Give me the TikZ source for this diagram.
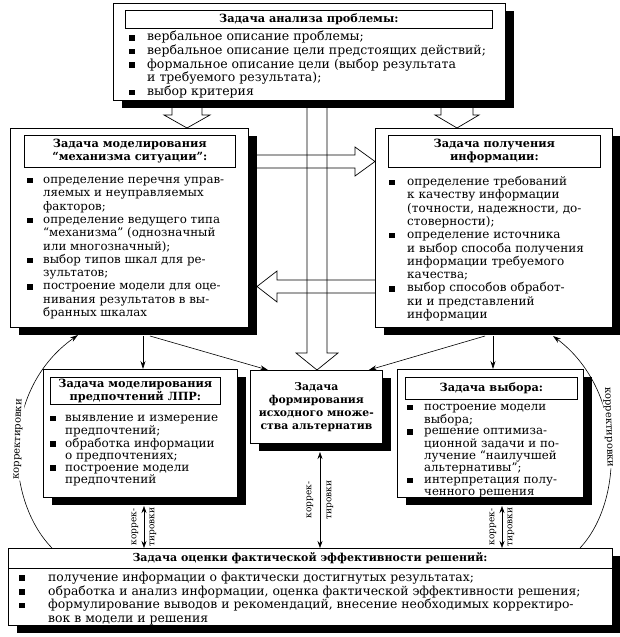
\documentclass[tikz,border=0pt]{standalone}
\usepackage{fontspec}
\setmainfont{DejaVu Serif}
\usetikzlibrary{shadows,arrows.meta}
\newcommand\bul{\rule[0.3pt]{6pt}{5.5pt}}
\newcommand\blist[2]{\begin{tabular}{@{}l@{\hspace{#1}}l@{}}#2\end{tabular}}
\tikzset{
  box/.style={draw, line width=0.8pt, fill=white, rectangle, anchor=north west, inner sep=0pt,
    drop shadow={shadow xshift=9pt, shadow yshift=-8pt, fill=black, opacity=1}},
  ttl/.style={draw, line width=0.7pt, fill=white, anchor=north west, inner sep=0pt, align=center,
    font=\bfseries\fontsize{11.3}{13}\selectfont},
  lst/.style={anchor=north west, inner sep=0pt},
  pipe/.style={draw, line width=0.7pt, line join=miter},
  tarrow/.style={draw, line width=0.6pt, -{Stealth[length=8pt,width=5pt]}},
  barrow/.style={draw, line width=0.6pt, {Stealth[length=7pt,width=5pt]}-{Stealth[length=7pt,width=5pt]}},
  klabel/.style={inner sep=0.5pt, font=\fontsize{9}{9}\selectfont},
  arclabel/.style={inner sep=1pt, fill=white, font=\fontsize{10}{10}\selectfont},
}
\begin{document}
\begin{tikzpicture}[x=1pt,y=-1pt]
\useasboundingbox (0,0) rectangle (619,637);
% hollow arrows
\draw[pipe] (172,100) -- (172,115) -- (164,115) -- (187,128) -- (210,115) -- (202,115) -- (202,100);
\draw[pipe] (441,100) -- (441,115) -- (435,115) -- (457,128) -- (479,115) -- (473,115) -- (473,100);
\draw[pipe] (307,100) -- (307,353) -- (296,353) -- (317,370) -- (338,353) -- (327,353) -- (327,100);
\draw[pipe] (248,155) -- (355,155) -- (355,147) -- (375,161.5) -- (355,176) -- (355,168) -- (248,168);
\draw[pipe] (375,280) -- (277,280) -- (277,271) -- (257,286.5) -- (277,302) -- (277,293) -- (375,293);

% boxes
\node[box, minimum width=392pt, minimum height=97pt] (top) at (113,3) {};
\node[box, minimum width=238pt, minimum height=199pt] (lbox) at (10,128) {};
\node[box, minimum width=237pt, minimum height=199pt] (rbox) at (375,128) {};
\node[box, minimum width=194pt, minimum height=128pt] (lpref) at (43,369) {};
\node[box, minimum width=132pt, minimum height=73pt] (alt) at (250,370) {};
\node[box, minimum width=186pt, minimum height=128pt] (choice) at (397,369) {};
\node[box, minimum width=604pt, minimum height=77pt] (eval) at (8,548) {};

% top box
\node[ttl, minimum width=367pt, minimum height=18pt] (toptitle) at (125,10) {Задача анализа проблемы:};
\node[lst, font=\fontsize{12.5}{13}\selectfont] (toplist) at (129,31) {\blist{12pt}{%
\bul & вербальное описание проблемы;\\
\bul & вербальное описание цели предстоящих действий;\\
\bul & формальное описание цели (выбор результата\\
     & и требуемого результата);\\
\bul & выбор критерия}};

% left box
\node[ttl, minimum width=211pt, minimum height=32pt] (ltitle) at (24,135) {Задача моделирования\\“механизма ситуации”:};
\node[lst, font=\fontsize{11.8}{13.3}\selectfont] (llist) at (27,174) {\blist{10pt}{%
\bul & определение перечня управ-\\
     & ляемых и неуправляемых\\
     & факторов;\\
\bul & определение ведущего типа\\
     & “механизма” (однозначный\\
     & или многозначный);\\
\bul & выбор типов шкал для ре-\\
     & зультатов;\\
\bul & построение модели для оце-\\
     & нивания результатов в вы-\\
     & бранных шкалах}};

% right box
\node[ttl, minimum width=212pt, minimum height=32pt] (rtitle) at (388,135) {Задача получения\\информации:};
\node[lst, font=\fontsize{12}{13.3}\selectfont] (rlist) at (389,176) {\blist{12pt}{%
\bul & определение требований\\
     & к качеству информации\\
     & (точности, надежности, до-\\
     & стоверности);\\
\bul & определение источника\\
     & и выбор способа получения\\
     & информации требуемого\\
     & качества;\\
\bul & выбор способов обработ-\\
     & ки и представлений\\
     & информации}};

% lower left box
\node[ttl, minimum width=170pt, minimum height=27pt] (lptitle) at (50,377) {Задача моделирования\\предпочтений ЛПР:};
\node[lst, font=\fontsize{12}{12}\selectfont] (lplist) at (50,413) {\blist{9pt}{%
\bul & выявление и измерение\\
     & предпочтений;\\
\bul & обработка информации\\
     & о предпочтениях;\\
\bul & построение модели\\
     & предпочтений}};

% center box
\node[anchor=center, align=center, inner sep=0pt, font=\bfseries\fontsize{10.8}{13}\selectfont] (alttext) at (alt.center) {Задача\\формирования\\исходного множе-\\ства альтернатив};

% lower right box
\node[ttl, minimum width=172pt, minimum height=22pt] (chtitle) at (405,377) {Задача выбора:};
\node[lst, font=\fontsize{11.8}{11.8}\selectfont] (chlist) at (407,402) {\blist{11pt}{%
\bul & построение модели\\
     & выбора;\\
\bul & решение оптимиза-\\
     & ционной задачи и по-\\
     & лучение “наилучшей\\
     & альтернативы”;\\
\bul & интерпретация полу-\\
     & ченного решения}};

% bottom box
\draw[line width=0.7pt] ([yshift=-20pt]eval.north west) -- ([yshift=-20pt]eval.north east);
\node[inner sep=0pt, font=\bfseries\fontsize{11}{12}\selectfont] (evtitle) at (310,558) {Задача оценки фактической эффективности решений:};
\node[lst, font=\fontsize{12.4}{13.7}\selectfont] (evlist) at (19,571.5) {\blist{23pt}{%
\bul & получение информации о фактически достигнутых результатах;\\
\bul & обработка и анализ информации, оценка фактической эффективности решения;\\
\bul & формулирование выводов и рекомендаций, внесение необходимых корректиро-\\
     & вок в модели и решения}};

% thin arrows
\coordinate (l1) at (143,336);
\coordinate (l2) at (150,336);
\coordinate (r1) at (493,336);
\coordinate (r2) at (485,336);
\draw[tarrow] (l1) -- (l1 |- lpref.north);
\draw[tarrow] (l2) -- ([xshift=18pt]alt.north west);
\draw[tarrow] (r1) -- (r1 |- choice.north);
\draw[tarrow] (r2) -- ([xshift=-14pt]alt.north east);

% corrections arrows
\coordinate (b1) at (144,506);
\coordinate (b2) at (320,452);
\coordinate (b3) at (502,506);
\draw[barrow] (b1) -- (b1 |- eval.north);
\draw[barrow] (b2) -- (b2 |- eval.north);
\draw[barrow] (b3) -- (b3 |- eval.north);
\node[klabel, rotate=90] (k1a) at (135,527) {коррек-};
\node[klabel, rotate=90] (k1b) at (153,527) {тировки};
\node[klabel, rotate=90] (k2a) at (310,500) {коррек-};
\node[klabel, rotate=90] (k2b) at (330,500) {тировки};
\node[klabel, rotate=90] (k3a) at (493,527) {коррек-};
\node[klabel, rotate=90] (k3b) at (511,527) {тировки};

% arcs
\coordinate (la) at (52,548);
\coordinate (ra) at (580,548);
\draw[line width=0.6pt, -{Stealth[length=8pt,width=5pt]}] (la) .. controls (5,500) and (0,390) .. (78,335)
  node[arclabel, pos=0.52, rotate=88] (lk) {корректировки};
\draw[line width=0.6pt, -{Stealth[length=8pt,width=5pt]}] (ra) .. controls (625,500) and (625,390) .. (553,336)
  node[arclabel, pos=0.57, rotate=-88] (rk) {корректировки};
\end{tikzpicture}
\end{document}
